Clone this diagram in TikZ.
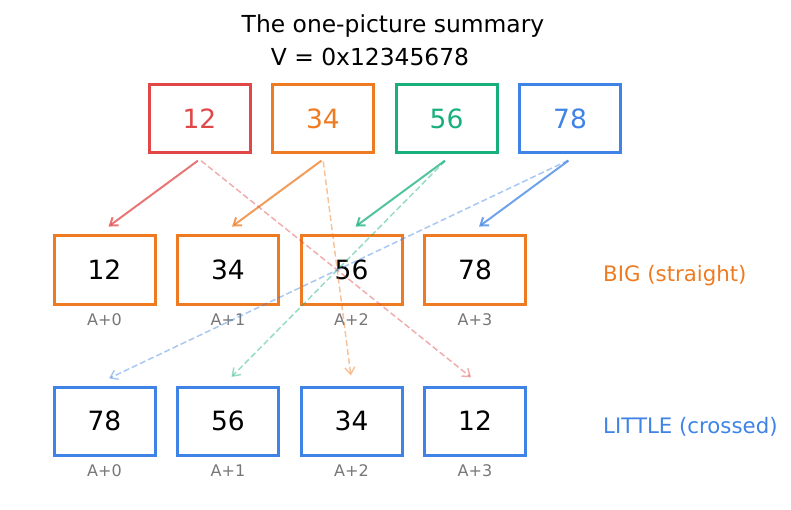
\documentclass[tikz,border=0pt]{standalone}
\usepackage{fontspec}
\setmainfont{DejaVu Sans}
\usepackage{xcolor}
\usetikzlibrary{arrows.meta}
\definecolor{byte-red}{HTML}{E04848}
\definecolor{byte-orange}{HTML}{EE7B22}
\definecolor{byte-green}{HTML}{17B07B}
\definecolor{byte-blue}{HTML}{3E83E5}
\definecolor{addr-gray}{HTML}{777777}
\tikzset{
    byte-box/.style = {draw=#1, line width=3pt, rectangle, minimum width=101pt, minimum height=68pt, font=\fontsize{26.5}{30}\selectfont},
    addr-label/.style = {text=addr-gray, font=\fontsize{16}{19}\selectfont},
    move-arrow/.style = {draw=#1, line width=2pt, draw opacity=0.75, -{Straight Barb[length=7pt,width=10pt]}, shorten <=2pt, shorten >=5pt},
    swap-arrow/.style = {draw=#1, line width=1.5pt, draw opacity=0.45, dashed, dash pattern=on 6pt off 3pt, -{Straight Barb[length=7pt,width=10pt]}, shorten <=2pt, shorten >=5pt},
}

\begin{document}
\begin{tikzpicture}[x=1pt, y=-1pt]
\useasboundingbox (0,0) rectangle (791,510);
\node[font=\fontsize{23.4}{28}\selectfont] (title) at (393,26) {The one-picture summary};
\node[font=\fontsize{23.4}{28}\selectfont] (value) at (370,57) {V = 0x12345678};

% the value, one byte per box
\node[byte-box=byte-red, text=byte-red] (v12) at (199.5,119) {12};
\node[byte-box=byte-orange, text=byte-orange] (v34) at (323,119) {34};
\node[byte-box=byte-green, text=byte-green] (v56) at (446.5,119) {56};
\node[byte-box=byte-blue, text=byte-blue] (v78) at (570,119) {78};

% big endian
\node[byte-box=byte-orange] (b0) at (104.5,270) {12};
\node[byte-box=byte-orange] (b1) at (228,270) {34};
\node[byte-box=byte-orange] (b2) at (351.5,270) {56};
\node[byte-box=byte-orange] (b3) at (475,270) {78};
\node[addr-label] (ba0) at (104.5,320) {A+0};
\node[addr-label] (ba1) at (228,320) {A+1};
\node[addr-label] (ba2) at (351.5,320) {A+2};
\node[addr-label] (ba3) at (475,320) {A+3};
\node[anchor=west, inner sep=0pt, text=byte-orange, font=\fontsize{21.3}{25}\selectfont] (big) at (603,276) {BIG (straight)};

% little endian
\node[byte-box=byte-blue] (l0) at (104.5,421) {78};
\node[byte-box=byte-blue] (l1) at (228,421) {56};
\node[byte-box=byte-blue] (l2) at (351.5,421) {34};
\node[byte-box=byte-blue] (l3) at (475,421) {12};
\node[addr-label] (la0) at (104.5,471) {A+0};
\node[addr-label] (la1) at (228,471) {A+1};
\node[addr-label] (la2) at (351.5,471) {A+2};
\node[addr-label] (la3) at (475,471) {A+3};
\node[anchor=west, inner sep=0pt, text=byte-blue, font=\fontsize{21.3}{25}\selectfont] (little) at (603,427) {LITTLE (crossed)};

% straight arrows
\draw[move-arrow=byte-red] ([yshift=-5pt]v12.south) -- ([yshift=5pt]b0.north);
\draw[move-arrow=byte-orange] ([yshift=-5pt]v34.south) -- ([yshift=5pt]b1.north);
\draw[move-arrow=byte-green] ([yshift=-5pt]v56.south) -- ([yshift=5pt]b2.north);
\draw[move-arrow=byte-blue] ([yshift=-5pt]v78.south) -- ([yshift=5pt]b3.north);

% crossed arrows
\draw[swap-arrow=byte-red] ([yshift=-5pt]v12.south) -- ([yshift=5pt]l3.north);
\draw[swap-arrow=byte-orange] ([yshift=-5pt]v34.south) -- ([yshift=5pt]l2.north);
\draw[swap-arrow=byte-green] ([yshift=-5pt]v56.south) -- ([yshift=5pt]l1.north);
\draw[swap-arrow=byte-blue] ([yshift=-5pt]v78.south) -- ([yshift=5pt]l0.north);
\end{tikzpicture}
\end{document}
